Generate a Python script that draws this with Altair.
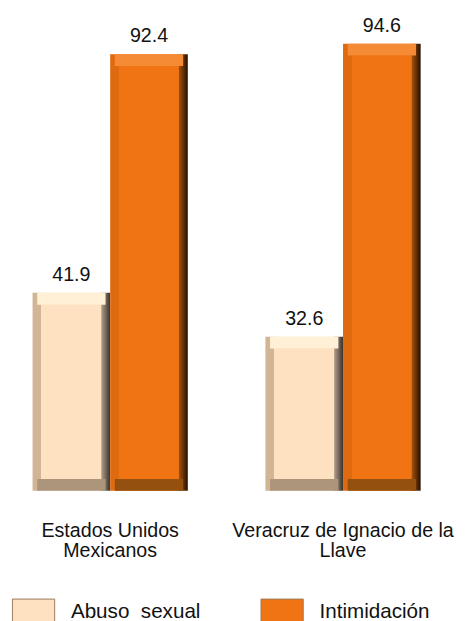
import altair as alt
import pandas as pd

categories = ["Estados Unidos Mexicanos", "Veracruz de Ignacio de la Llave"]
category_lines = [["Estados Unidos", "Mexicanos"], ["Veracruz de Ignacio de la", "Llave"]]
series = ["Abuso sexual", "Intimidación"]
abuso = [41.9, 32.6]
intimidacion = [92.4, 94.6]

face_colors = ["#FDE1C1", "#F07414"]
top_colors = ["#FFF0D6", "#F58B34"]
bottom_colors = ["#AD957C", "#93500F"]
left_colors = ["#D2B595", "#E06A0F"]
right_colors = ["#B9A48F", "#A9540C"]
dark_colors = ["#3A322C", "#261203"]

GAP = " "
BEVEL = 2.5  # bevel depth in value units

rows = []
for i, c in enumerate(categories):
    rows.append({"cat": c, "series": series[0], "value": abuso[i]})
    rows.append({"cat": c, "series": series[1], "value": intimidacion[i]})
df = pd.DataFrame(rows)

slots = [
    f"{categories[0]}|{series[0]}", f"{categories[0]}|{series[1]}", GAP,
    f"{categories[1]}|{series[0]}", f"{categories[1]}|{series[1]}",
]

FONT = "Liberation Sans"

label_expr = " : ".join(
    [f"datum.value == '{c}|{series[1]}' ? {lines!r}" for c, lines in zip(categories, category_lines)]
    + ["''"]
)

x_enc = alt.X(
    "slot:N",
    sort=slots,
    scale=alt.Scale(domain=slots, paddingInner=0, paddingOuter=0),
    axis=alt.Axis(
        title=None, domain=False, ticks=False, tickSize=0, labelAngle=0,
        values=[slots[1], slots[4]], labelOffset=-39.5,
        labelFont=FONT, labelFontSize=20, labelColor="#111111",
        labelPadding=30, labelLimit=0, labelLineHeight=21,
        labelBaseline="top", labelExpr=label_expr,
    ),
)
yscale = alt.Scale(domain=[0, 100])

base = (
    alt.Chart(df)
    .transform_calculate(
        slot="datum.cat + '|' + datum.series",
        zero="0",
        bev=str(BEVEL),
        topin=f"datum.value - {BEVEL}",
    )
    .encode(x=x_enc)
)

layers = []
for i, s in enumerate(series):
    sub = base.transform_filter(alt.datum.series == s)
    grad = alt.Gradient(
        gradient="linear", x1=0, x2=1, y1=0, y2=0,
        stops=[
            alt.GradientStop(offset=0, color=left_colors[i]),
            alt.GradientStop(offset=0.11, color=left_colors[i]),
            alt.GradientStop(offset=0.115, color=face_colors[i]),
            alt.GradientStop(offset=0.875, color=face_colors[i]),
            alt.GradientStop(offset=0.88, color=right_colors[i]),
            alt.GradientStop(offset=1, color=dark_colors[i]),
        ],
    )
    layers.append(
        sub.mark_bar(fill=grad).encode(
            y=alt.Y("value:Q", scale=yscale, axis=None)
        )
    )
    layers.append(
        sub.mark_bar(color=top_colors[i], width=alt.RelativeBandSize(0.88)).encode(
            y=alt.Y("value:Q", scale=yscale, axis=None), y2=alt.Y2("topin:Q")
        )
    )
    layers.append(
        sub.mark_bar(color=bottom_colors[i], width=alt.RelativeBandSize(0.88)).encode(
            y=alt.Y("bev:Q", scale=yscale, axis=None), y2=alt.Y2("zero:Q")
        )
    )

face = base.mark_bar(width=alt.RelativeBandSize(0.77)).encode(
    y=alt.Y("topin:Q", scale=yscale, axis=None),
    y2=alt.Y2("bev:Q"),
    color=alt.Color(
        "series:N", sort=series,
        scale=alt.Scale(domain=series, range=face_colors),
        legend=alt.Legend(
            title=None, orient="none", legendX=-21, legendY=582,
            direction="horizontal", columns=2, columnPadding=59,
            symbolType="M-1,-0.6H1V0.6H-1Z", symbolSize=1849,
            symbolStrokeWidth=1, symbolStrokeColor="#9A7A5C", symbolOpacity=1,
            labelOffset=16,
            labelFont=FONT, labelFontSize=21, labelColor="#111111",
            labelLimit=0, padding=0, offset=0,
            labelExpr="datum.label == 'Abuso sexual' ? 'Abuso\u00a0 sexual' : datum.label",
        ),
    ),
)
layers.append(face)

text = base.mark_text(
    dy=-12, baseline="alphabetic", font=FONT, fontSize=20, color="#111111"
).encode(
    y=alt.Y("value:Q", scale=yscale, axis=None),
    text=alt.Text("value:Q", format=".1f"),
)
layers.append(text)

chart = (
    alt.layer(*layers)
    .properties(
        width=395, height=481,
        autosize=alt.AutoSizeParams(type="none"),
        padding={"left": 25, "top": 5, "right": 37, "bottom": 127},
    )
    .configure(background="white")
    .configure_view(strokeWidth=0, stroke=None)
)

chart.save("out.html", embed_options={"renderer": "svg", "actions": False})
